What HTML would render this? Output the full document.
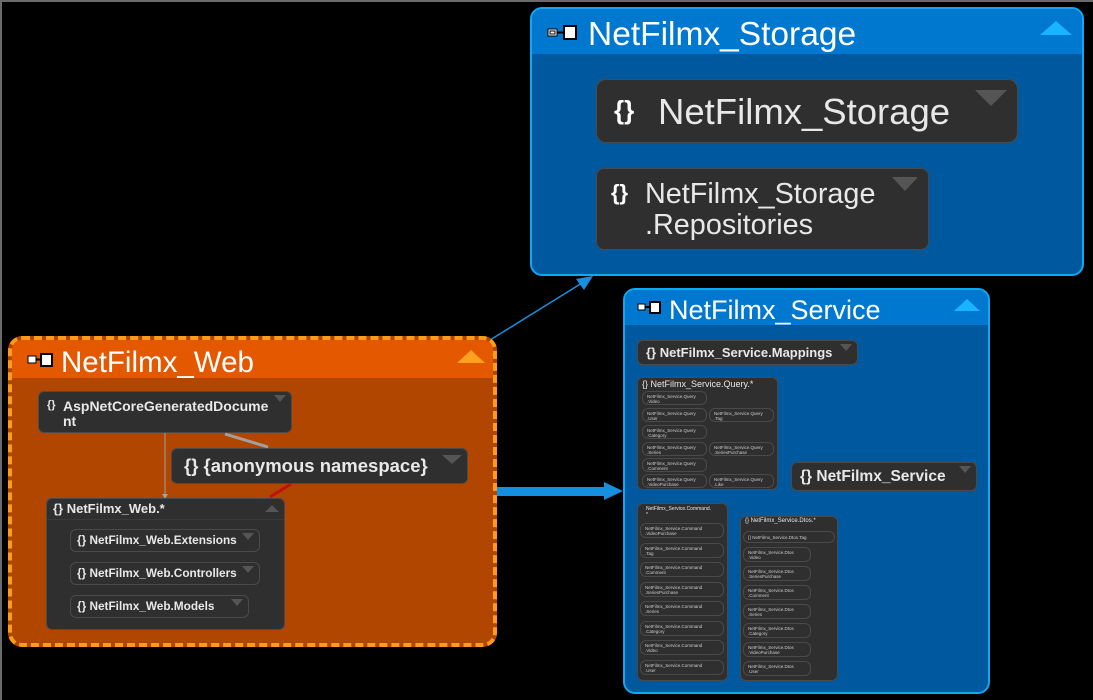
<!DOCTYPE html>
<html><head><meta charset="utf-8"><style>
*{box-sizing:border-box;margin:0;padding:0}
body{width:1093px;height:700px;background:#000;position:relative;overflow:hidden;font-family:"Liberation Sans",sans-serif}
.a{position:absolute}
.grp{position:absolute;border-radius:12px;overflow:hidden}
.blue{background:#00589f;border:2px solid #10a8f0}
.blue .hd{background:#0078d0}
.hd{position:absolute;left:0;top:0;right:0;color:#fff;white-space:nowrap}
.tri-up{position:absolute;width:0;height:0;border-left:16px solid transparent;border-right:16px solid transparent;border-bottom:14px solid #19b4ff}
.n{position:absolute;background:#2f2f2f;border:1px solid #4a4a4a;border-radius:6px;color:#e8e8e8;white-space:nowrap;overflow:hidden}
.n .t{position:absolute;width:0;height:0;border-left:6px solid transparent;border-right:6px solid transparent;border-top:7px solid #555;right:5px;top:3px}
.s{font-size:4.5px;line-height:5px;padding:2px 4px;color:#ccc}
</style></head><body>
<div class="a" style="left:0;top:0;width:1093px;height:2px;background:#6a6a6a"></div>
<div class="a" style="left:0;top:0;width:2px;height:700px;background:#6a6a6a"></div>

<svg class="a" style="left:0;top:0" width="1093" height="700">
<line x1="490" y1="340" x2="582" y2="283" stroke="#1890e0" stroke-width="1.5"/>
<polygon points="593,276 576,279 584,290" fill="#1890e0"/>
</svg>

<!-- Storage -->
<div class="grp blue" style="left:530px;top:7px;width:554px;height:269px">
 <div class="hd" style="height:45px;font-size:33.5px;line-height:52px;padding-left:56px">NetFilmx_Storage</div>
 <svg class="a" style="left:15px;top:16px" width="32" height="16"><rect x="1" y="4" width="9" height="7" fill="#fff" stroke="#000"/><rect x="3" y="6" width="5" height="3" fill="none" stroke="#000"/><line x1="10" y1="7.5" x2="17" y2="7.5" stroke="#000" stroke-width="2"/><rect x="17" y="1" width="12" height="13" fill="#fff" stroke="#000" stroke-width="2"/></svg>
 <div class="tri-up" style="right:10px;top:12px"></div>
 <div class="n" style="left:64px;top:70px;width:422px;height:64px;border-radius:10px;font-size:36.5px;line-height:64px;padding-left:61px"><span class="a" style="left:17px;top:-2px;font-size:26px;color:#fff;font-weight:bold">{}</span>NetFilmx_Storage<div class="t" style="border-left-width:16px;border-right-width:16px;border-top-width:16px;right:10px;top:10px"></div></div>
 <div class="n" style="left:64px;top:159px;width:333px;height:82px;border-radius:8px;font-size:28.8px;line-height:31px;padding:10px 0 0 48px"><span class="a" style="left:14px;top:8px;font-size:22px;color:#fff;font-weight:bold">{}</span>NetFilmx_Storage<br>.Repositories<div class="t" style="border-left-width:13px;border-right-width:13px;border-top-width:14px;right:10px;top:8px"></div></div>
</div>

<!-- Service -->
<div class="grp blue" style="left:623px;top:288px;width:367px;height:406px">
 <div class="hd" style="height:35px;font-size:27px;line-height:41px;padding-left:44px">NetFilmx_Service</div>
 <svg class="a" style="left:12px;top:11px" width="26" height="14"><rect x="1" y="3" width="7" height="6" fill="#fff" stroke="#000"/><line x1="8" y1="6" x2="13" y2="6" stroke="#000" stroke-width="2"/><rect x="13" y="1" width="10" height="11" fill="#fff" stroke="#000" stroke-width="2"/></svg>
 <div class="tri-up" style="right:8px;top:9px;border-left-width:13px;border-right-width:13px;border-bottom-width:12px"></div>
 <div class="n" style="left:12px;top:50px;width:221px;height:25px;font-size:13px;line-height:23px;padding-left:8px;font-weight:bold">{} NetFilmx_Service.Mappings<div class="t"></div></div>
 <div class="n" style="left:166px;top:172px;width:186px;height:29px;font-size:15.5px;line-height:27px;padding-left:8px;font-weight:bold">{} NetFilmx_Service<div class="t"></div></div>
</div>

<!-- Query box -->
<div class="n" style="left:637px;top:377px;width:141px;height:113px;font-size:9px;line-height:13px;padding-left:4px">{} NetFilmx_Service.Query.*
 <div class="n s" style="left:4px;top:13px;width:65px;height:14px">NetFilmx_Service.Query<br>.Video</div>
 <div class="n s" style="left:4px;top:30px;width:65px;height:14px">NetFilmx_Service.Query<br>.User</div>
 <div class="n s" style="left:71px;top:30px;width:65px;height:14px">NetFilmx_Service.Query<br>.Tag</div>
 <div class="n s" style="left:4px;top:47px;width:65px;height:14px">NetFilmx_Service.Query<br>.Category</div>
 <div class="n s" style="left:4px;top:64px;width:65px;height:14px">NetFilmx_Service.Query<br>.Series</div>
 <div class="n s" style="left:71px;top:64px;width:65px;height:14px">NetFilmx_Service.Query<br>.SeriesPurchase</div>
 <div class="n s" style="left:4px;top:80px;width:65px;height:14px">NetFilmx_Service.Query<br>.Comment</div>
 <div class="n s" style="left:4px;top:96px;width:65px;height:14px">NetFilmx_Service.Query<br>.VideoPurchase</div>
 <div class="n s" style="left:71px;top:96px;width:65px;height:14px">NetFilmx_Service.Query<br>.Like</div>
</div>

<!-- Command box -->
<div class="n" style="left:637px;top:503px;width:91px;height:178px;font-size:5px;line-height:6px;padding:2px 8px">NetFilmx_Service.Command.<br>*
 <div class="n s" style="left:2px;top:19px;width:84px;height:15px">NetFilmx_Service.Command<br>.VideoPurchase</div>
 <div class="n s" style="left:2px;top:39px;width:84px;height:15px">NetFilmx_Service.Command<br>.Tag</div>
 <div class="n s" style="left:2px;top:58px;width:84px;height:15px">NetFilmx_Service.Command<br>.Comment</div>
 <div class="n s" style="left:2px;top:78px;width:84px;height:15px">NetFilmx_Service.Command<br>.SeriesPurchase</div>
 <div class="n s" style="left:2px;top:97px;width:84px;height:15px">NetFilmx_Service.Command<br>.Series</div>
 <div class="n s" style="left:2px;top:117px;width:84px;height:15px">NetFilmx_Service.Command<br>.Category</div>
 <div class="n s" style="left:2px;top:136px;width:84px;height:15px">NetFilmx_Service.Command<br>.Video</div>
 <div class="n s" style="left:2px;top:156px;width:84px;height:15px">NetFilmx_Service.Command<br>.User</div>
</div>

<!-- Dtos box -->
<div class="n" style="left:740px;top:516px;width:98px;height:165px;font-size:6px;line-height:9px;padding-left:4px">{} NetFilmx_Service.Dtos.*
 <div class="n s" style="left:2px;top:14px;width:92px;height:12px;line-height:7px">{} NetFilmx_Service.Dtos.Tag</div>
 <div class="n s" style="left:2px;top:30px;width:68px;height:15px">NetFilmx_Service.Dtos<br>.Video</div>
 <div class="n s" style="left:2px;top:49px;width:68px;height:15px">NetFilmx_Service.Dtos<br>.SeriesPurchase</div>
 <div class="n s" style="left:2px;top:68px;width:68px;height:15px">NetFilmx_Service.Dtos<br>.Comment</div>
 <div class="n s" style="left:2px;top:87px;width:68px;height:15px">NetFilmx_Service.Dtos<br>.Series</div>
 <div class="n s" style="left:2px;top:106px;width:68px;height:15px">NetFilmx_Service.Dtos<br>.Category</div>
 <div class="n s" style="left:2px;top:125px;width:68px;height:15px">NetFilmx_Service.Dtos<br>.VideoPurchase</div>
 <div class="n s" style="left:2px;top:144px;width:68px;height:15px">NetFilmx_Service.Dtos<br>.User</div>
</div>

<!-- Web -->
<div class="grp" style="left:8px;top:336px;width:489px;height:311px;background:#b04600;border:4px dashed #ff9a1a;border-radius:14px">
 <div class="hd" style="background:#e45800;height:38px;font-size:29.5px;line-height:46px;padding-left:49px">NetFilmx_Web</div>
 <svg class="a" style="left:15px;top:13px" width="28" height="15"><rect x="1" y="3" width="8" height="7" fill="#fff" stroke="#000"/><line x1="9" y1="6.5" x2="14" y2="6.5" stroke="#000" stroke-width="2"/><rect x="14" y="1" width="11" height="12" fill="#fff" stroke="#000" stroke-width="2"/></svg>
 <div class="tri-up" style="right:8px;top:10px;border-bottom-color:#ffa020;border-left-width:14px;border-right-width:14px;border-bottom-width:13px"></div>
</div>
<svg class="a" style="left:0;top:0" width="1093" height="700">
<line x1="165" y1="432" x2="165" y2="494" stroke="#a0a0a0" stroke-width="1"/>
<polygon points="162,494 168,494 165,499" fill="#a0a0a0"/>
<line x1="225" y1="434" x2="268" y2="447" stroke="#a0a0a0" stroke-width="3"/>
<line x1="291" y1="484" x2="270" y2="497" stroke="#c01010" stroke-width="3"/>
<rect x="497" y="487" width="109" height="9" fill="#1590e0"/>
<polygon points="604,482 623,491 604,500" fill="#1590e0"/>
</svg>
<div class="n" style="left:38px;top:391px;width:254px;height:42px;font-size:14px;line-height:15px;padding:7px 0 0 24px;font-weight:bold">AspNetCoreGeneratedDocume<br>nt<span class="a" style="left:8px;top:6px;font-size:11px">{}</span><div class="t"></div></div>
<div class="n" style="left:171px;top:448px;width:297px;height:36px;font-size:18.5px;line-height:34px;padding-left:12px;font-weight:bold">{} {anonymous namespace}<div class="t" style="border-left-width:10px;border-right-width:10px;border-top-width:9px;top:6px"></div></div>
<div class="n" style="left:46px;top:498px;width:239px;height:132px;font-size:13px;line-height:20px;padding-left:6px;font-weight:bold">{} NetFilmx_Web.*
 <div class="a" style="left:0;right:0;top:20px;height:1px;background:#3a3a3a"></div>
 <div class="n" style="left:23px;top:30px;width:190px;height:23px;font-size:11.8px;line-height:21px;padding-left:6px">{} NetFilmx_Web.Extensions<div class="t"></div></div>
 <div class="n" style="left:23px;top:63px;width:190px;height:23px;font-size:11.8px;line-height:21px;padding-left:6px">{} NetFilmx_Web.Controllers<div class="t"></div></div>
 <div class="n" style="left:23px;top:96px;width:179px;height:23px;font-size:11.8px;line-height:21px;padding-left:6px">{} NetFilmx_Web.Models<div class="t"></div></div>
 <div class="a" style="right:5px;top:6px;width:0;height:0;border-left:7px solid transparent;border-right:7px solid transparent;border-bottom:7px solid #555"></div>
</div>

</body></html>
